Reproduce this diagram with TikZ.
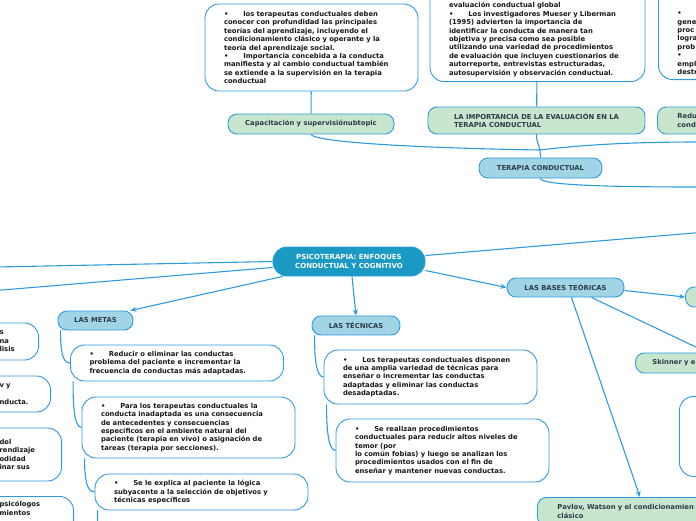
\documentclass[tikz,border=0pt]{standalone}
\usepackage{fontspec}
\setmainfont{DejaVu Sans}
\usetikzlibrary{arrows.meta}

\definecolor{linkblue}{HTML}{2E9BE0}
\definecolor{rootblue}{HTML}{1A9AC3}
\definecolor{subblue}{HTML}{A1D4E4}
\definecolor{leafgreen}{HTML}{C7E6CD}
\definecolor{slate}{HTML}{2D3B48}

\newcommand{\bul}{\textbullet\hspace{15pt}}

\begin{document}
\begin{tikzpicture}[x=1pt, y=-1pt,
    every node/.style={font=\bfseries\fontsize{6.8}{8.4}\selectfont},
    card/.style={draw=linkblue, line width=0.9pt, fill=white, rounded corners=14pt,
      align=left, text width=175pt, inner xsep=19pt, inner ysep=5pt, text=black!90},
    pill/.style={draw=linkblue, line width=0.9pt, rounded corners=9pt, text=slate, inner sep=0pt},
    sub/.style={pill, fill=subblue},
    leaf/.style={pill, fill=leafgreen},
    branch/.style={draw=linkblue, line width=1.1pt},
    link/.style={branch, -{Stealth[length=6pt, width=5pt]}}]
\useasboundingbox (0,0) rectangle (696,520);
\clip (0,0) rectangle (696,520);

% root and the main topics
\node[pill, fill=rootblue, text=white, rounded corners=14pt, align=center,
  minimum width=152pt, minimum height=29pt, font=\bfseries\fontsize{7}{9}\selectfont]
  (root) at (349,261.5) {PSICOTERAPIA: ENFOQUES\\CONDUCTUAL Y COGNITIVO};
\node[sub, minimum width=123pt, minimum height=20pt] (terapia) at (540.5,168) {TERAPIA CONDUCTUAL};
\node[sub, minimum width=75pt, minimum height=19pt] (metas) at (95.5,320.5) {LAS METAS};
\node[sub, minimum width=88pt, minimum height=19pt] (tecnicas) at (356,325.5) {LAS TÉCNICAS};
\node[sub, minimum width=117pt, minimum height=19pt] (bases) at (565.5,287.5) {LAS BASES TEÓRICAS};

% green subtopics
\node[leaf, minimum width=166pt, minimum height=20pt] (capac) at (311,124) {Capacitación y supervisiónubtopic};
\node[leaf, minimum width=217pt, minimum height=27pt, align=left] (importancia) at (536.5,120.5)
  {LA IMPORTANCIA DE LA EVALUACIÓN EN LA\\TERAPIA CONDUCTUAL};
\node[leaf, minimum height=27pt, text width=100pt, inner xsep=20pt, align=left, anchor=west]
  (redu) at (657,120.5) {Redu\\cond};
\node[leaf, minimum width=60pt, minimum height=20pt, anchor=west] (basesright) at (685,297) {};
\node[leaf, minimum height=20pt, text width=110pt, inner xsep=17pt, align=left, anchor=west]
  (skinner) at (635,363) {Skinner y e};
\node[leaf, minimum height=28pt, text width=200pt, inner xsep=20pt, align=left, anchor=north west]
  (pavlov) at (537,497) {Pavlov, Watson y el condicionamien\\clásico};

% text cards
\node[card, minimum height=87pt] (capbox) at (311.5,47.5) {\bul los terapeutas conductuales deben\\
  conocer con profundidad las principales\\ teorías del aprendizaje, incluyendo el\\
  condicionamiento clásico y operante y la\\ teoría del aprendizaje social.\\
  \bul Importancia concebida a la conducta\\ manifiesta y al cambio conductual también\\
  se extiende a la supervisión en la terapia\\ conductual};
\node[card, text width=177pt, anchor=south] (evalbox) at (537.5,82) {~\\~\\~\\
  evaluación conductual global\\ \bul Los investigadores Mueser y Liberman\\
  (1995) advierten la importancia de\\ identificar la conducta de manera tan\\
  objetiva y precisa como sea posible\\ utilizando una variedad de procedimientos\\
  de evaluación que incluyen cuestionarios de\\ autorreporte, entrevistas estructuradas,\\
  autosupervisión y observación conductual.};
\node[card, text width=80pt, anchor=south west] (genbox) at (658,80)
  {~\\~\\~\\\textbullet\\gene\\proc\\logra\\prob\\\textbullet\\empl\\destr};
\node[card, minimum height=36pt] (m1) at (177,363) {\bul Reducir o eliminar las conductas\\
  problema del paciente e incrementar la\\ frecuencia de conductas más adaptadas.};
\node[card, minimum height=61pt] (m2) at (188.5,427.5) {\bul Para los terapeutas conductuales la\\
  conducta inadaptada es una consecuencia\\ de antecedentes y consecuencias\\
  específicos en el ambiente natural del\\ paciente (terapia en vivo) o asignación de\\
  tareas (terapia por secciones).};
\node[card, minimum height=36pt] (m3) at (201.5,492) {\bul Se le explica al paciente la lógica\\
  subyacente a la selección de objetivos y\\ técnicas específicos};
\node[card, minimum height=54pt] (t1) at (430.5,377) {\bul Los terapeutas conductuales disponen\\
  de una amplia variedad de técnicas para\\ enseñar o incrementar las conductas\\
  adaptadas y eliminar las conductas\\ desadaptadas.};
\node[card, minimum height=63pt] (t2) at (442.5,450.5) {\bul Se realizan procedimientos\\
  conductuales para reducir altos niveles de\\ temor (por\\
  lo común fobias) y luego se analizan los\\ procedimientos usados con el fin de\\
  enseñar y mantener nuevas conductas.};
\node[card, text width=60pt, minimum height=80pt, anchor=north west] (rightbox) at (679,396) {};

% cards cut by the left edge
\node[card, text width=20pt, minimum height=37pt, anchor=east] (leftA) at (39,341.5) {s\\na\\lisis};
\node[card, text width=32pt, minimum height=36pt, anchor=east] (leftB) at (51,394) {v y\\~\\nducta.};
\node[card, text width=43pt, minimum height=53pt, anchor=east] (leftC) at (62,454.5) {del\\rendizaje\\odidad\\inar sus};
\node[card, text width=55pt, anchor=north east] (leftD) at (74,496) {psicólogos\\mientos\\~\\~};

% free ends beyond the frame
\coordinate (tfork) at (540,150);
\coordinate (offA) at (700,142);
\coordinate (offB) at (700,187);
\coordinate (offC) at (700,232.5);
\coordinate (offL1) at (-4,267);
\coordinate (offL2) at (-4,290.5);
\coordinate (offM) at (105,545);

\draw[branch] (capbox) -- (capac);
\draw[branch] (evalbox) -- (importancia);
\draw[branch] (terapia.north) -- (tfork);
\draw[branch] (capac.south) .. controls +(5,8) and +(-120,-2) .. (tfork);
\draw[branch] (importancia.south) .. controls +(0,10) and +(0,-5) .. (tfork);
\draw[branch] (tfork) .. controls +(50,-6) and +(-60,0) .. (offA);
\draw[branch] (terapia.south) .. controls +(0,8) and +(-60,0) .. (offB);

\draw[branch] ([yshift=6pt]root.east) -- (offC);
\draw[branch] (root.west) -- (offL1);
\draw[branch] ([yshift=-6pt]root.west) -- (offL2);
\draw[link] ([xshift=10pt]root.south west) -- ([xshift=-3pt]metas.north east);
\draw[link] ([xshift=3pt]root.south) -- (tecnicas.north);
\draw[link] ([yshift=-9pt]root.east) -- (bases.west);
\draw[link] ([yshift=-3pt]bases.east) -- (basesright.west);
\draw[link] ([xshift=26pt]bases.south) -- (skinner.north);
\draw[link] ([xshift=6pt]bases.south) -- ([xshift=103pt]pavlov.north west);

\foreach \from/\to in {metas/m1, m1/m2, m2/m3, tecnicas/t1, t1/t2}
  \draw[branch] ([xshift=3pt]\from.south west) .. controls +(0,20) and +(-8,0) .. (\to.west);
\draw[branch] ([xshift=3pt]m3.south west) .. controls +(0,20) and +(-8,0) .. (offM);
\end{tikzpicture}
\end{document}
